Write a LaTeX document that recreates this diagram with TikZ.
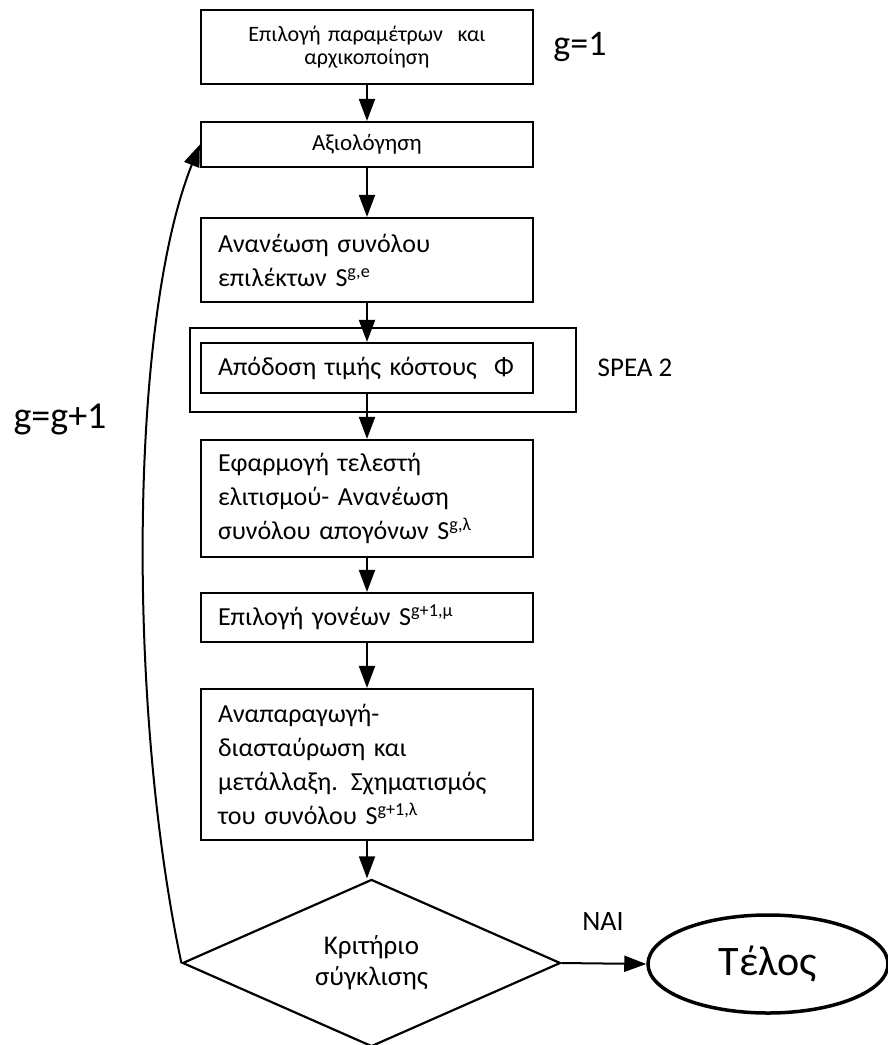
\documentclass[tikz,border=0pt]{standalone}
\usepackage{fontspec}
\setmainfont{Carlito}
\usetikzlibrary{shapes.geometric,arrows.meta}
\begin{document}
\begin{tikzpicture}[x=1pt,y=-1pt,
  box/.style={draw,line width=2.2pt,minimum width=332pt,inner sep=0pt,
    text width=298pt,align=left,font=\fontsize{26}{34}\selectfont},
  smallbox/.style={box,align=center,font=\fontsize{22}{23.5}\selectfont},
  flow/.style={line width=2pt,-{Triangle[length=22pt,width=16pt]}},
  lbl/.style={inner sep=0pt},
]
\useasboundingbox (0,0) rectangle (888,1045);

% main chain of steps
\node[smallbox,minimum height=74pt] (init) at (367,47)
  {Επιλογή παραμέτρων\ \ και\\αρχικοποίηση};
\node[smallbox,minimum height=45pt,font=\fontsize{23}{25}\selectfont] (eval) at (367,144.5) {Αξιολόγηση};
\node[box,minimum height=84pt] (elite) at (367,260)
  {Ανανέωση συνόλου\\επιλέκτων S\textsuperscript{g,e}};
\node[draw,line width=1.3pt,minimum width=386pt,minimum height=84pt] (spea) at (383,370) {};
\node[box,minimum height=50pt] (fit) at (367,368) {Απόδοση τιμής κόστους\ \ Φ};
\node[box,minimum height=117pt] (offspring) at (367,498.5)
  {Εφαρμογή τελεστή\\ελιτισμού- Ανανέωση\\συνόλου απογόνων S\textsuperscript{g,λ}};
\node[box,minimum height=49pt] (parents) at (367,617.5)
  {Επιλογή γονέων S\textsuperscript{g+1,μ}};
\node[box,minimum height=151pt] (repro) at (367,764.5)
  {Αναπαραγωγή-\\διασταύρωση και\\μετάλλαξη. Σχηματισμός\\του συνόλου S\textsuperscript{g+1,λ}};

% decision and end
\node[diamond,draw,line width=2.2pt,minimum width=378pt,minimum height=164pt,
  inner sep=0pt,align=center,font=\fontsize{27}{31}\selectfont] (conv) at (371.5,963)
  {Κριτήριο\\σύγκλισης};
\node[ellipse,draw,line width=3.5pt,minimum width=240pt,minimum height=98pt,
  inner sep=0pt,font=\fontsize{42}{46}\selectfont] (end) at (768,964) {Τέλος};

% side labels
\node[lbl,font=\fontsize{36}{40}\selectfont] (g1) at (580,47) {g=1};
\node[lbl,font=\fontsize{38}{42}\selectfont] (gnext) at (60,420) {g=g+1};
\node[lbl,font=\fontsize{27}{30}\selectfont] (spealbl) at (635,368) {SPEA 2};
\node[lbl,font=\fontsize{28}{30}\selectfont] (yes) at (603,922) {ΝΑΙ};

% connectors
\draw[flow] (init) -- (eval);
\draw[flow] (eval) -- (elite);
\draw[flow] (elite) -- (fit);
\draw[flow] (fit) -- (offspring);
\draw[flow] (offspring) -- (parents);
\draw[flow] (parents) -- (repro);
\draw[flow] (repro.south) -- (repro.south |- conv.north);
\draw[flow] (conv.east) -- (end.west);
\draw[flow] (conv.west) .. controls +(-55,-260) and +(-70,175) .. (eval.west);
\end{tikzpicture}
\end{document}
